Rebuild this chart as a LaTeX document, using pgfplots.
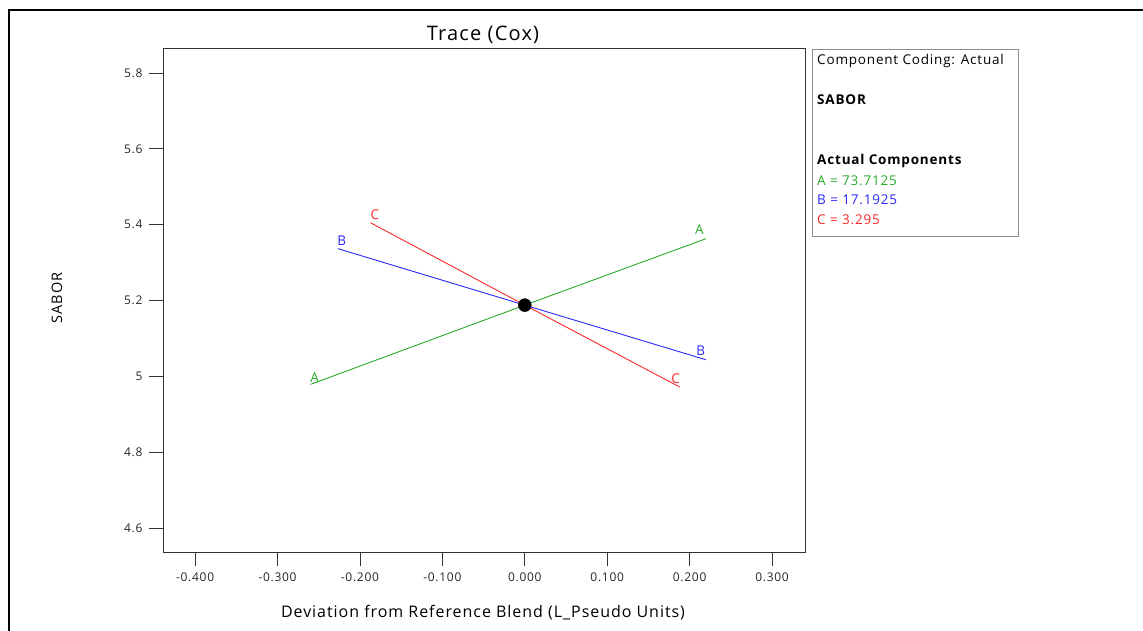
\documentclass[border=0pt]{standalone}
\usepackage{pgfplots}
\pgfplotsset{compat=1.18}
\usepackage{fontspec}
\setmainfont[LetterSpace=6]{Open Sans}
\definecolor{cA}{RGB}{40,170,40}
\definecolor{cB}{RGB}{40,40,250}
\definecolor{cC}{RGB}{250,40,40}
\begin{document}
\begin{tikzpicture}
\begin{axis}[
  scale only axis,
  width=642pt, height=504pt,
  xmin=-0.439, xmax=0.340,
  ymin=4.537, ymax=5.866,
  axis line style={black!80, line width=0.8pt},
  xtick={-0.4,-0.3,-0.2,-0.1,0,0.1,0.2,0.3},
  ytick={4.6,4.8,5,5.2,5.4,5.6,5.8},
  xticklabel style={/pgf/number format/fixed, /pgf/number format/fixed zerofill, /pgf/number format/precision=3, yshift=-3pt},
  yticklabel style={/pgf/number format/fixed, /pgf/number format/precision=1, xshift=-3pt},
  /pgf/number format/assume math mode=true,
  tick align=outside,
  xtick pos=bottom, ytick pos=left,
  major tick length=14pt,
  tick style={black!80, line width=0.8pt},
  ticklabel style={font=\fontsize{12}{14}\selectfont, text=black!85},
  clip=false,
]
\addplot[cA, line width=0.9pt] coordinates {(-0.260,4.979) (0,5.188) (0.2197,5.363)};
\addplot[cB, line width=0.9pt] coordinates {(-0.227,5.337) (0,5.188) (0.2197,5.044)};
\addplot[cC, line width=0.9pt] coordinates {(-0.187,5.405) (0,5.188) (0.188,4.972)};
\addplot[only marks, mark=*, mark size=6.5pt, black] coordinates {(0,5.188)};
\begin{scope}[every node/.style={font=\fontsize{13.5}{15}\selectfont}]
\node[text=cA] at (axis cs:-0.255,4.997) {A};
\node[text=cA] at (axis cs:0.212,5.387) {A};
\node[text=cB] at (axis cs:-0.222,5.358) {B};
\node[text=cB] at (axis cs:0.2136,5.068) {B};
\node[text=cC] at (axis cs:-0.182,5.427) {C};
\node[text=cC] at (axis cs:0.183,4.995) {C};
\end{scope}
\end{axis}
% titles
\node[font=\fontsize{20}{23}\selectfont] at (320pt,517pt) {Trace (Cox)};
\node[font=\fontsize{16}{19}\selectfont] at (320pt,-61pt) {Deviation from Reference Blend (L\_Pseudo Units)};
\node[font=\fontsize{14.5}{17}\selectfont, rotate=90] at (-106pt,254pt) {SABOR};
% legend box
\draw[black!45, line width=0.8pt] (649pt,316pt) rectangle (855pt,503pt);
\begin{scope}[every node/.style={anchor=base west, inner sep=0pt, font=\fontsize{13.5}{15}\selectfont}]
\node at (654pt,487pt) {Component Coding: Actual};
\node at (654pt,447pt) {\bfseries SABOR};
\node at (654pt,387pt) {\bfseries Actual Components};
\node[text=cA] at (654pt,366pt) {A = 73.7125};
\node[text=cB] at (654pt,347pt) {B = 17.1925};
\node[text=cC] at (654pt,327pt) {C = 3.295};
\end{scope}
% outer frame
\draw[black, line width=2pt] (-154pt,-100pt) -- (-154pt,542pt) -- (1000pt,542pt);
\pgfresetboundingbox
\path[use as bounding box] (-163pt,-78pt) rectangle (980pt,552pt);
\end{tikzpicture}
\end{document}
